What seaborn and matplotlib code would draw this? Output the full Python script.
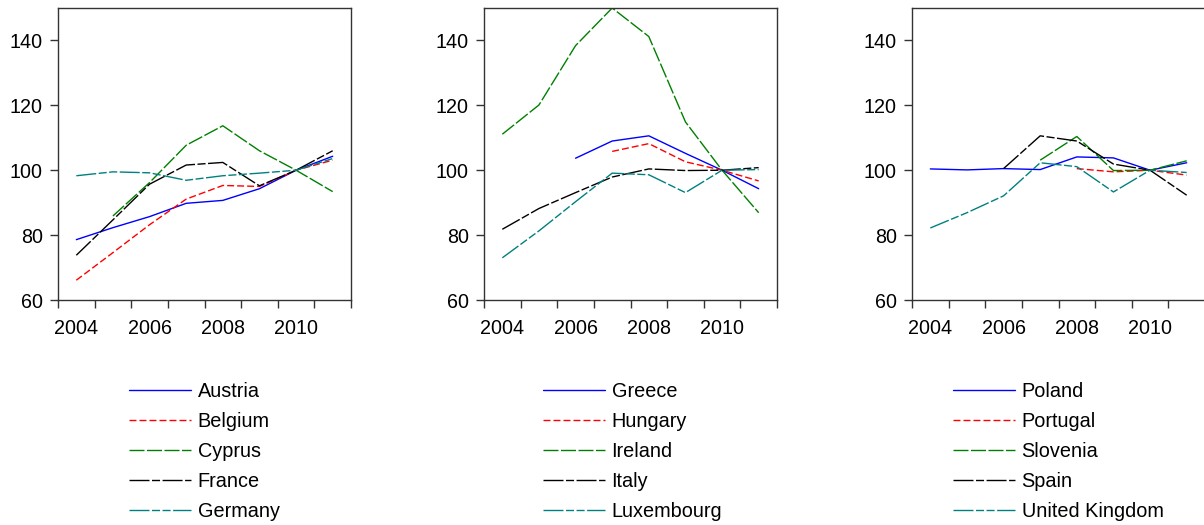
import numpy as np
import pandas as pd
import matplotlib
matplotlib.use("Agg")
import matplotlib.pyplot as plt
from matplotlib.ticker import FixedLocator, NullFormatter
import seaborn as sns

years = [2004, 2005, 2006, 2007, 2008, 2009, 2010, 2011]

# Price level index, 2010 = 100 (None = not available)
austria    = [78.6, 82.3, 85.7, 89.8, 90.7, 94.3, 100.0, 104.3]
belgium    = [66.1, 74.6, 83.2, 91.1, 95.3, 95.0, 100.0, 103.1]
cyprus     = [None, 85.9, 96.2, 107.7, 113.7, 106.0, 100.0, 93.4]
france     = [73.8, 84.7, 95.7, 101.6, 102.4, 95.2, 100.0, 106.0]
germany    = [98.3, 99.5, 99.2, 96.9, 98.3, 99.1, 100.0, 103.6]

greece     = [None, None, 103.7, 109.0, 110.6, 105.2, 100.0, 94.3]
hungary    = [None, None, None, 105.8, 108.2, 102.6, 100.0, 96.7]
ireland    = [111.1, 120.1, 138.4, 150.0, 141.2, 114.9, 100.0, 86.9]
italy      = [81.8, 88.2, 93.1, 97.9, 100.4, 99.9, 100.0, 100.8]
luxembourg = [73.0, 81.3, 90.3, 99.1, 98.6, 93.1, 100.0, 100.2]

poland     = [100.4, 100.1, 100.5, 100.2, 104.1, 103.8, 100.0, 102.3]
portugal   = [None, None, None, None, 100.5, 99.5, 100.0, 98.5]
slovenia   = [None, None, None, 103.1, 110.4, 99.9, 100.0, 102.9]
spain      = [None, None, 100.5, 110.6, 109.0, 101.9, 100.0, 92.3]
uk         = [82.2, 86.9, 92.1, 102.3, 101.1, 93.3, 100.0, 99.3]

panels = [
    (["Austria", "Belgium", "Cyprus", "France", "Germany"],
     [austria, belgium, cyprus, france, germany]),
    (["Greece", "Hungary", "Ireland", "Italy", "Luxembourg"],
     [greece, hungary, ireland, italy, luxembourg]),
    (["Poland", "Portugal", "Slovenia", "Spain", "United Kingdom"],
     [poland, portugal, slovenia, spain, uk]),
]

yticks = [60, 80, 100, 120, 140]
xlabels = [2004, 2006, 2008, 2010]

# one colour / dash pattern per series position (dash lengths in points)
colors = ["#0000FF", "#FF0000", "#008000", "#000000", "#008080"]
styles = [
    "-",
    (0, (5.0, 2.2)),
    (0, (10.8, 1.8)),
    (0, (14.4, 1.8, 5.8, 1.8)),
    (0, (14.4, 1.8, 5.8, 1.8, 5.8, 1.8)),
]

sns.set_theme(style="white")
plt.rcParams["font.family"] = ["Liberation Sans", "DejaVu Sans"]
plt.rcParams["lines.scale_dashes"] = False

W, H = 1204, 525
fig = plt.figure(figsize=(W / 100, H / 100), dpi=100)

ax_left = [58, 484, 912]
ax_w, ax_top, ax_bot = 293, 8, 300
leg_x = [129, 543, 953]
spine_col = "#333333"

for i, (names, series) in enumerate(panels):
    ax = fig.add_axes([ax_left[i] / W, 1 - ax_bot / H, ax_w / W, (ax_bot - ax_top) / H])
    for name, vals, c, ls in zip(names, series, colors, styles):
        df = pd.DataFrame({"year": years, "value": vals}).dropna()
        sns.lineplot(data=df, x="year", y="value", color=c, linestyle=ls,
                     linewidth=1.0, label=name, ax=ax, legend=False)
    ax.set_xlim(2003.5, 2011.5)
    ax.set_ylim(60, 150)
    ax.set_xlabel("")
    ax.set_ylabel("")
    ax.set_yticks(yticks)
    ax.set_xticks(xlabels)
    ax.set_xticklabels([str(y) for y in xlabels])
    ax.xaxis.set_minor_locator(FixedLocator(np.arange(2003.5, 2012, 1.0)))
    ax.xaxis.set_minor_formatter(NullFormatter())
    ax.tick_params(axis="x", which="major", length=0, pad=14, labelsize=14.2, colors="black")
    ax.tick_params(axis="x", which="minor", bottom=True, length=6, width=1.0,
                   direction="out", color=spine_col)
    ax.tick_params(axis="y", which="major", left=True, length=6, width=1.0, pad=5,
                   direction="out", labelsize=14.2, color=spine_col, labelcolor="black")
    for s in ax.spines.values():
        s.set_visible(True)
        s.set_color(spine_col)
        s.set_linewidth(1.0)
    ax.grid(False)

    handles = ax.get_lines()
    ax.legend(handles, names, loc="upper left",
              bbox_to_anchor=(leg_x[i] / W, 1 - 382 / H),
              bbox_transform=fig.transFigure, frameon=False,
              fontsize=14.3, labelcolor="black", handlelength=3.1,
              handletextpad=0.35, labelspacing=0.555, borderpad=0,
              borderaxespad=0)

fig.savefig("out.png", dpi=100)
